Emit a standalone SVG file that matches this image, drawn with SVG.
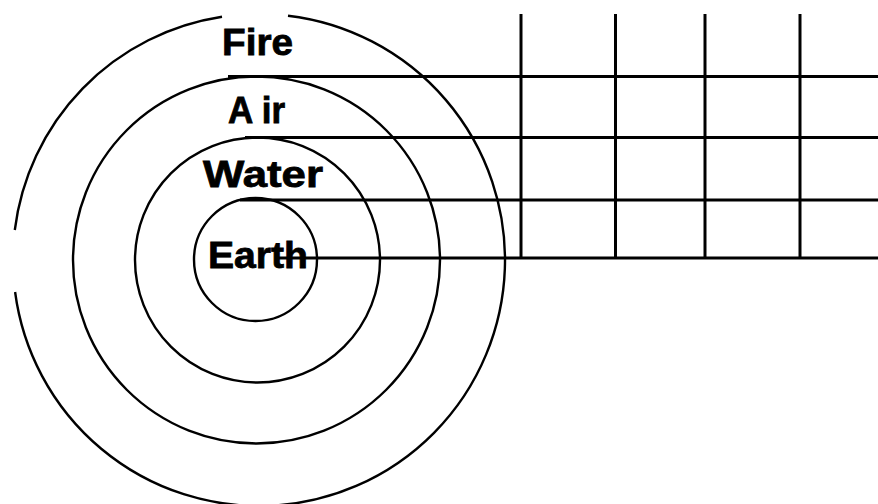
<svg xmlns="http://www.w3.org/2000/svg" width="878" height="504" viewBox="0 0 878 504">
  <style>
    .ring { fill: none; stroke: #000; stroke-width: 2.4; }
    .grid { stroke: #000; stroke-width: 3; fill: none; }
    .lbl { font-family: "Liberation Sans", Arial, sans-serif; font-weight: bold; font-size: 37px; fill: #000; stroke: #000; stroke-width: 0.8; }
  </style>
  <rect width="878" height="504" fill="#fff"/>
  <g id="rings">
    <path id="ring-fire" class="ring" d="M 288 15.7 A 246 246 0 1 1 15.1 292 M 14.8 230 A 246 246 0 0 1 222 16.8"/>
    <circle id="ring-air" class="ring" cx="256.5" cy="260" r="183.5"/>
    <circle id="ring-water" class="ring" cx="257.5" cy="260" r="122.5"/>
    <circle id="ring-earth" class="ring" cx="255.5" cy="259.5" r="61.5"/>
  </g>
  <g id="grid">
    <line class="grid" x1="228" y1="76.5" x2="878" y2="76.5"/>
    <line class="grid" x1="245" y1="137.5" x2="878" y2="137.5"/>
    <line class="grid" x1="240" y1="200" x2="878" y2="200"/>
    <line class="grid" x1="278" y1="258" x2="878" y2="258"/>
    <line class="grid" x1="521" y1="14" x2="521" y2="259"/>
    <line class="grid" x1="615.5" y1="14" x2="615.5" y2="259"/>
    <line class="grid" x1="705" y1="14" x2="705" y2="259"/>
    <line class="grid" x1="800" y1="14" x2="800" y2="259"/>
  </g>
  <g id="labels">
    <text id="fire" class="lbl" x="222" y="55" textLength="71" lengthAdjust="spacingAndGlyphs">Fire</text>
    <text id="air" class="lbl" x="228" y="123" textLength="57" lengthAdjust="spacingAndGlyphs">A ir</text>
    <text id="water" class="lbl" x="203" y="187" textLength="120" lengthAdjust="spacingAndGlyphs">Water</text>
    <text id="earth" class="lbl" x="208" y="268" textLength="100" lengthAdjust="spacingAndGlyphs">Earth</text>
  </g>
</svg>
